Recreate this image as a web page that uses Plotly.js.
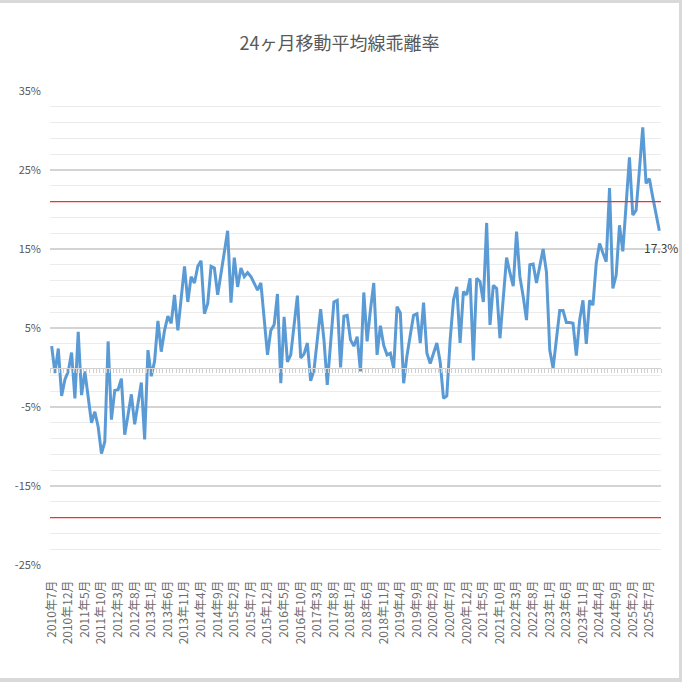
<!DOCTYPE html>
<html>
<head>
<meta charset="utf-8">
<script src="https://cdn.plot.ly/plotly-3.0.1.min.js"></script>
<style>
  html, body { margin: 0; padding: 0; background: #d9d9d9; }
  #chart { position: absolute; left: 0; top: 3px; width: 679px; height: 675px; background: #fff; }
</style>
</head>
<body>
<div id="chart"></div>
<script>
// monthly series starts at 2010年7月
var startYear = 2010;
var startMonth = 7;

// 24ヶ月移動平均線乖離率 (%), one value per month
var deviation = [
    2.7, -0.7, 2.4, -3.6, -1.5, -0.5, 1.9, -3.9, 4.5, -3.5, -0.5, -3.8,
    -7.0, -5.6, -7.5, -10.9, -9.4, 3.3, -6.6, -2.9, -2.8, -1.4, -8.5, -6.0,
    -3.4, -7.2, -4.5, -1.9, -9.1, 2.2, -1.1, 0.8, 5.9, 2.0, 4.7, 6.5,
    5.6, 9.2, 4.7, 9.0, 12.8, 8.3, 11.5, 10.7, 12.8, 13.5, 6.8, 8.1,
    12.8, 12.6, 9.2, 11.9, 14.7, 17.3, 8.2, 13.9, 10.2, 12.6, 11.5, 12.0,
    11.5, 10.7, 9.8, 10.7, 6.2, 1.6, 4.7, 5.4, 9.3, -2.0, 6.4, 0.7,
    1.6, 5.2, 9.1, 1.2, 1.7, 3.1, -1.7, -0.3, 4.0, 7.4, 3.5, -2.2,
    3.1, 8.3, 8.5, 0.0, 6.5, 6.6, 3.5, 2.7, 3.9, -0.5, 9.5, 3.3,
    7.3, 10.7, 1.6, 5.3, 2.8, 1.6, 1.8, -0.1, 7.7, 6.9, -2.0, 1.5,
    4.1, 6.6, 6.8, 3.1, 8.2, 1.8, 0.5, 1.8, 3.1, 0.7, -3.9, -3.6,
    3.5, 8.5, 10.2, 3.1, 9.6, 9.2, 11.3, 0.9, 11.3, 10.9, 8.3, 18.3,
    5.4, 10.4, 10.0, 3.7, 8.8, 13.9, 12.0, 10.3, 17.2, 11.5, 9.0, 6.0,
    13.0, 13.1, 10.7, 12.8, 15.0, 12.1, 2.2, -0.1, 3.5, 7.2, 7.2, 5.7,
    5.7, 5.6, 1.5, 6.0, 8.5, 3.0, 8.5, 7.9, 13.2, 15.7, 14.5, 13.4,
    22.7, 10.0, 11.7, 18.0, 14.7, 20.6, 26.6, 19.3, 19.9, 25.0, 30.4, 23.3,
    23.9, 21.6, 19.3, 17.3
];

// labelled months on the category axis
var tickLabels = [
    '2010年7月', '2010年12月', '2011年5月', '2011年10月', '2012年3月', '2012年8月',
    '2013年1月', '2013年6月', '2013年11月', '2014年4月', '2014年9月', '2015年2月',
    '2015年7月', '2015年12月', '2016年5月', '2016年10月', '2017年3月', '2017年8月',
    '2018年1月', '2018年6月', '2018年11月', '2019年4月', '2019年9月', '2020年2月',
    '2020年7月', '2020年12月', '2021年5月', '2021年10月', '2022年3月', '2022年8月',
    '2023年1月', '2023年6月', '2023年11月', '2024年4月', '2024年9月', '2025年2月',
    '2025年7月'
];

var yTicks = [-25, -15, -5, 5, 15, 25, 35];
var yRange = [-25, 35];

// upper / lower reference lines (%)
var bands = [21, -19];

// build month category names
var months = deviation.map(function(_, i) {
    var m = startMonth - 1 + i;
    return (startYear + Math.floor(m / 12)) + '年' + (m % 12 + 1) + '月';
});

var fontFamily = '"Noto Sans CJK JP", "Noto Sans", sans-serif';
var lastValue = deviation[deviation.length - 1];

var lineTrace = {
    x: months,
    y: deviation,
    type: 'scatter',
    mode: 'lines',
    line: { color: '#5b9bd5', width: 3 },
    hoverinfo: 'x+y',
    showlegend: false
};

// same series on the zero-crossing axis so its tick marks get drawn
var axisTrace = {
    x: months,
    y: deviation,
    xaxis: 'x2',
    type: 'scatter',
    mode: 'lines',
    line: { color: 'rgba(0,0,0,0)', width: 0 },
    hoverinfo: 'skip',
    showlegend: false
};

var shapes = bands.map(function(v) {
    return {
        type: 'line', xref: 'paper', yref: 'y',
        x0: 0, x1: 1, y0: v, y1: v,
        line: { color: '#ff2a2a', width: 1.2 },
        layer: 'above'
    };
});

var layout = {
    width: 679,
    height: 675,
    margin: { l: 50, r: 18, t: 88, b: 113 },
    paper_bgcolor: '#ffffff',
    plot_bgcolor: '#ffffff',
    font: { family: fontFamily, color: '#595959', size: 11 },
    title: {
        text: '24ヶ月移動平均線乖離率',
        font: { family: fontFamily, size: 18, color: '#595959' },
        x: 0.5, xref: 'container', xanchor: 'center',
        y: 1 - 41 / 675, yref: 'container', yanchor: 'middle'
    },
    xaxis: {
        type: 'category',
        tickmode: 'array',
        tickvals: tickLabels,
        ticktext: tickLabels,
        tickangle: -90,
        tickfont: { family: fontFamily, size: 12, color: '#6a6a6a' },
        ticks: '',
        ticklabelstandoff: 12,
        showgrid: false,
        zeroline: false,
        showline: false,
        range: [-0.5, deviation.length - 0.5],
        fixedrange: true
    },
    xaxis2: {
        type: 'category',
        overlaying: 'x',
        matches: 'x',
        anchor: 'free',
        position: (0 - yRange[0]) / (yRange[1] - yRange[0]),
        side: 'bottom',
        showticklabels: false,
        tickmode: 'linear',
        tick0: 0,
        dtick: 1,
        tickson: 'boundaries',
        ticks: 'outside',
        ticklen: 4,
        tickcolor: '#d0d0d0',
        tickwidth: 1,
        showline: true,
        linecolor: '#d0d0d0',
        linewidth: 1,
        showgrid: false,
        zeroline: false
    },
    yaxis: {
        range: yRange,
        tickmode: 'array',
        tickvals: yTicks,
        ticktext: yTicks.map(function(v) { return v + '%'; }),
        tickfont: { family: fontFamily, size: 11, color: '#595959' },
        ticklabelstandoff: 8,
        showgrid: true,
        gridcolor: '#d4d4d4',
        gridwidth: 1.3,
        minor: { tick0: 1, dtick: 2, showgrid: true, gridcolor: '#ececec', gridwidth: 1 },
        zeroline: false,
        showline: false,
        fixedrange: true
    },
    shapes: shapes,
    annotations: [{
        x: months[months.length - 1],
        y: lastValue,
        xref: 'x', yref: 'y',
        text: lastValue.toFixed(1) + '%',
        showarrow: false,
        xanchor: 'center',
        yanchor: 'middle',
        xshift: 2,
        yshift: -17,
        font: { family: fontFamily, size: 12, color: '#404040' }
    }]
};

Plotly.newPlot('chart', [lineTrace, axisTrace], layout, { displayModeBar: false, staticPlot: true });
</script>
</body>
</html>
